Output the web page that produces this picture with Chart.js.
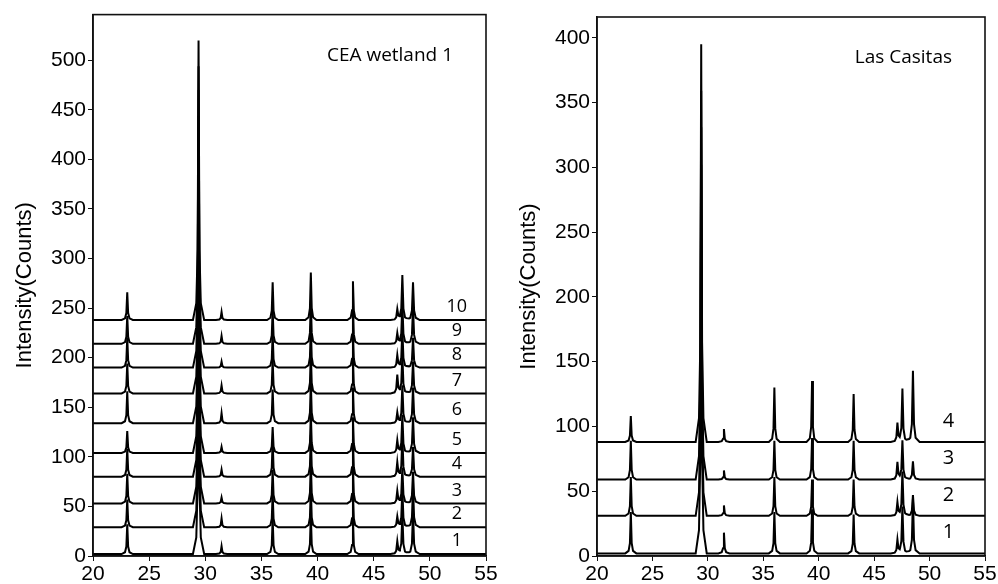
<!DOCTYPE html>
<html>
<head>
<meta charset="utf-8">
<script src="https://cdn.jsdelivr.net/npm/chart.js@4.4.1/dist/chart.umd.min.js"></script>
<style>
  html, body { margin: 0; padding: 0; background: #fff; }
  #wrap { position: relative; width: 998px; height: 584px; overflow: hidden; }
  canvas { position: absolute; top: 0; }
</style>
</head>
<body>
<div id="wrap">
  <canvas id="left" width="500" height="584" style="left:0"></canvas>
  <canvas id="right" width="498" height="584" style="left:500px"></canvas>
</div>
<script>
// ---------- DATA ----------
const xTicks = [20, 25, 30, 35, 40, 45, 50, 55];
const leftYTicks = [0, 50, 100, 150, 200, 250, 300, 350, 400, 450, 500];
const rightYTicks = [0, 50, 100, 150, 200, 250, 300, 350, 400];

// peak positions (2-theta, degrees)
const peakPos = [23.05, 29.4, 31.45, 36.0, 39.4, 43.15, 47.1, 47.55, 48.5];

// CEA wetland 1 : baseline of each pattern (trace 1..10)
const leftLabels = ['1', '2', '3', '4', '5', '6', '7', '8', '9', '10'];
const leftBase = [2, 29, 53, 80, 104, 134, 164, 190, 214, 238];
// peak heights above baseline, per trace (same order as peakPos)
const leftH1  = [30, 280, 8, 36, 40, 36, 12, 40, 42];
const leftH2  = [28, 280, 9, 34, 40, 36, 10, 38, 40];
const leftH3  = [30, 280, 6, 34, 42, 38, 12, 36, 32];
const leftH4  = [28, 280, 7, 36, 42, 38, 14, 40, 30];
const leftH5  = [22, 280, 6, 26, 40, 36, 12, 38, 36];
const leftH6  = [32, 280, 10, 34, 42, 36, 10, 38, 36];
const leftH7  = [30, 280, 8, 34, 42, 36, 18, 38, 32];
const leftH8  = [30, 280, 6, 34, 42, 36, 12, 38, 30];
const leftH9  = [28, 280, 8, 34, 44, 38, 10, 40, 36];
const leftH10 = [28, 282, 8, 38, 48, 39, 10, 45, 38];
const leftHeights = [leftH1, leftH2, leftH3, leftH4, leftH5, leftH6, leftH7, leftH8, leftH9, leftH10];

// Las Casitas : trace 1..4
const rightLabels = ['1', '2', '3', '4'];
const rightBase = [2, 31, 59, 88];
const rightH1 = [32, 300, 16, 32, 34, 30, 10, 36, 42];
const rightH2 = [30, 300, 8, 30, 28, 28, 10, 34, 16];
const rightH3 = [30, 300, 7, 30, 32, 30, 13, 30, 14];
const rightH4 = [20, 307, 10, 42, 47, 37, 14, 41, 55];
const rightHeights = [rightH1, rightH2, rightH3, rightH4];

// ---------- peak line shape (style) ----------
const shapeDx = [-0.5, -0.2, -0.08, 0, 0.08, 0.2, 0.5];
const shapeF  = [0, 0.06, 0.25, 1, 0.25, 0.06, 0];
const peakWidth = [1, 1, 1, 1, 1, 1, 1.2, 1.2, 1.2];

function shapeAt(u) {
  if (u <= shapeDx[0] || u >= shapeDx[shapeDx.length - 1]) return 0;
  for (let i = 0; i < shapeDx.length - 1; i++) {
    if (u >= shapeDx[i] && u <= shapeDx[i + 1]) {
      const t = (u - shapeDx[i]) / (shapeDx[i + 1] - shapeDx[i]);
      return shapeF[i] + t * (shapeF[i + 1] - shapeF[i]);
    }
  }
  return 0;
}

function buildTrace(base, heights) {
  const xs = [20, 55];
  peakPos.forEach((p, i) => shapeDx.forEach(d => xs.push(p + d * peakWidth[i])));
  xs.sort((a, b) => a - b);
  const pts = [];
  let last = null;
  xs.forEach(x => {
    if (last !== null && Math.abs(x - last) < 1e-6) return;
    last = x;
    let y = base;
    peakPos.forEach((p, i) => { y += heights[i] * shapeAt((x - p) / peakWidth[i]); });
    pts.push({ x: x, y: y });
  });
  return pts;
}

// ---------- plugins ----------
const framePlugin = {
  id: 'frame',
  afterDatasetsDraw(chart) {
    const a = chart.chartArea, ctx = chart.ctx;
    ctx.save();
    ctx.strokeStyle = '#111';
    ctx.lineWidth = 1.6;
    ctx.strokeRect(a.left, a.top, a.right - a.left, a.bottom - a.top);
    ctx.restore();
  }
};

function textPlugin(title, labels, bases, labelX, labelFont, labelLift) {
  return {
    id: 'texts',
    afterDraw(chart) {
      const ctx = chart.ctx, a = chart.chartArea;
      const xs = chart.scales.x, ys = chart.scales.y;
      ctx.save();
      ctx.fillStyle = '#000';
      ctx.font = '500 19px "Open Sans"';
      ctx.textAlign = 'right';
      ctx.textBaseline = 'middle';
      ctx.fillText(title, a.right - 33, a.top + 41);
      ctx.font = labelFont;
      ctx.textAlign = 'center';
      labels.forEach((lb, i) => {
        ctx.fillText(lb, xs.getPixelForValue(labelX), ys.getPixelForValue(bases[i]) - labelLift);
      });
      ctx.restore();
    }
  };
}

function makeChart(id, bases, heights, yTicks, yMax, padding, yWidth, plugin) {
  const datasets = bases.map((b, i) => ({
    data: buildTrace(b, heights[i]),
    borderColor: '#000',
    borderWidth: 2,
    pointRadius: 0,
    tension: 0,
    fill: false
  }));
  return new Chart(document.getElementById(id), {
    type: 'line',
    data: { datasets: datasets },
    options: {
      responsive: false,
      animation: false,
      layout: { padding: padding },
      plugins: { legend: { display: false }, tooltip: { enabled: false } },
      scales: {
        x: {
          type: 'linear', min: 20, max: 55,
          afterBuildTicks: s => { s.ticks = xTicks.map(v => ({ value: v })); },
          afterFit: s => { s.height = 28; },
          grid: { drawOnChartArea: false, drawTicks: true, tickLength: 5, color: '#111' },
          border: { display: true, color: '#111', width: 1.6 },
          ticks: { color: '#000', padding: 1, maxRotation: 0, font: { family: '"Liberation Sans", Arial', size: 21 } }
        },
        y: {
          type: 'linear', min: 0, max: yMax,
          afterBuildTicks: s => { s.ticks = yTicks.map(v => ({ value: v })); },
          afterFit: s => { s.width = yWidth; },
          grid: { drawOnChartArea: false, drawTicks: true, tickLength: 5, color: '#111' },
          border: { display: true, color: '#111', width: 1.6 },
          ticks: { color: '#000', padding: 2, font: { family: '"Liberation Sans", Arial', size: 21 } },
          title: { display: true, text: 'Intensity(Counts)', color: '#000',
                   padding: { top: yWidth - 81, bottom: 0 },
                   font: { family: '"Liberation Sans", Arial', size: 22 } }
        }
      }
    },
    plugins: [framePlugin, plugin]
  });
}

makeChart('left', leftBase, leftHeights, leftYTicks, 546,
  { left: 0, right: 14, top: 14, bottom: 0 }, 93,
  textPlugin('CEA wetland 1', leftLabels, leftBase, 52.4, '500 18px "Open Sans"', 13));

makeChart('right', rightBase, rightHeights, rightYTicks, 416,
  { left: 0, right: 13, top: 17, bottom: 0 }, 97,
  textPlugin('Las Casitas', rightLabels, rightBase, 51.7, '500 20px "Open Sans"', 21));
</script>
</body>
</html>
